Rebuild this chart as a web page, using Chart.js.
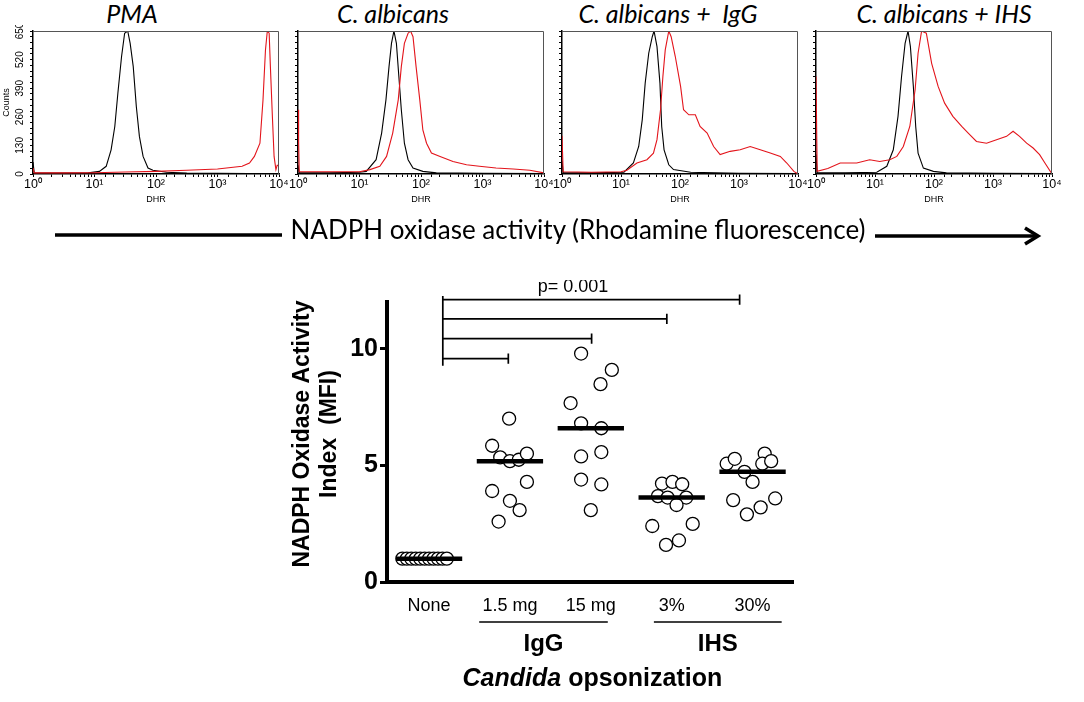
<!DOCTYPE html>
<html><head><meta charset="utf-8">
<script src="https://cdn.jsdelivr.net/npm/chart.js@4.4.0/dist/chart.umd.min.js"></script>
<style>
html,body{margin:0;padding:0;background:#fff;}
body{width:1084px;height:702px;overflow:hidden;position:relative;font-family:'Liberation Sans',Arial,sans-serif;}
.box{position:absolute;}
.ttl{position:absolute;top:-1px;font-family:Lato,'Open Sans',sans-serif;font-style:italic;font-size:25px;line-height:28px;white-space:nowrap;transform:translateX(-50%);color:#000;}
#big{position:absolute;left:578px;top:214px;font-family:Lato,'Open Sans',sans-serif;font-size:26px;line-height:30px;white-space:nowrap;transform:translateX(-50%);color:#000;}
</style></head><body>

<div class="ttl" style="left:132px">PMA</div>
<div class="ttl" style="left:393px">C. albicans</div>
<div class="ttl" style="left:668px">C. albicans +&nbsp; IgG</div>
<div class="ttl" style="left:944px">C. albicans + IHS</div>

<div class="box" style="left:0px;top:25px;width:289px;height:190px"><canvas id="h1"></canvas></div>
<div class="box" style="left:286px;top:25px;width:268px;height:190px"><canvas id="h2"></canvas></div>
<div class="box" style="left:550px;top:25px;width:258px;height:190px"><canvas id="h3"></canvas></div>
<div class="box" style="left:804px;top:25px;width:260px;height:190px"><canvas id="h4"></canvas></div>

<svg class="box" style="left:0;top:0" width="1084" height="260">
  <line x1="55" y1="235" x2="282" y2="235" stroke="#000" stroke-width="3.5"/>
  <line x1="875" y1="236" x2="1036" y2="236" stroke="#000" stroke-width="3.5"/>
  <polyline points="1025,228 1038,236 1025,244" fill="none" stroke="#000" stroke-width="3.5" stroke-linejoin="miter"/>
</svg>
<div id="big">NADPH oxidase activity (Rhodamine fluorescence)</div>

<div class="box" style="left:270px;top:280px;width:530px;height:422px"><canvas id="sc"></canvas></div>

<script>
// ---------- Histogram data: [log10(DHR), counts] ----------
const pmaCtrl = [[0,54],[0.02,5],[0.5,4],[0.9,5],[1.08,12],[1.19,35],[1.27,110],[1.33,216],[1.38,367],[1.44,534],[1.49,640],[1.54,650],[1.58,594],[1.63,488],[1.68,307],[1.73,171],[1.79,80],[1.87,27],[1.95,17],[2.17,8],[2.5,4],[3,3],[3.5,2],[4,2]];
const pmaTest = [[0,27],[0.02,5],[0.5,5],[1,6],[1.5,9],[2,12],[2.5,17],[3,23],[3.4,35],[3.52,50],[3.6,80],[3.69,140],[3.74,337],[3.78,564],[3.81,650],[3.84,640],[3.86,488],[3.89,277],[3.92,80],[3.95,20],[3.97,39],[4,39]];
const albCtrl = [[0,40],[0.02,5],[0.5,5],[1,8],[1.11,12],[1.27,65],[1.36,186],[1.43,337],[1.48,488],[1.52,594],[1.56,650],[1.6,594],[1.64,443],[1.68,292],[1.73,140],[1.79,65],[1.87,27],[2.03,12],[2.25,5],[3,3],[4,2]];
const albTest = [[0,292],[0.01,148],[0.02,10],[0.5,10],[1,10],[1.17,20],[1.33,35],[1.44,80],[1.54,186],[1.63,337],[1.68,488],[1.73,594],[1.79,640],[1.83,650],[1.87,624],[1.92,488],[1.98,337],[2.03,201],[2.09,140],[2.17,95],[2.31,80],[2.52,57],[2.74,42],[2.95,35],[3.22,27],[3.5,23],[3.77,17],[4,5]];
const iggCtrl = [[0,60],[0.02,5],[0.5,5],[1.05,8],[1.21,50],[1.3,125],[1.36,246],[1.41,413],[1.47,549],[1.53,624],[1.56,650],[1.61,579],[1.66,413],[1.69,216],[1.73,110],[1.81,42],[1.89,20],[2.18,8],[2.6,5],[3,3],[4,2]];
const iggTest = [[0,174],[0.02,10],[0.5,8],[1,10],[1.1,17],[1.27,50],[1.44,65],[1.55,95],[1.61,156],[1.67,292],[1.71,443],[1.75,564],[1.81,650],[1.85,624],[1.92,534],[2.01,398],[2.06,292],[2.15,269],[2.26,269],[2.34,216],[2.46,186],[2.57,125],[2.68,88],[2.85,103],[3.02,110],[3.19,125],[3.36,110],[3.53,95],[3.7,80],[3.81,50],[3.93,12],[4,0]];
const ihsCtrl = [[0,90],[0.02,5],[0.5,5],[1.03,8],[1.2,35],[1.31,110],[1.39,262],[1.45,443],[1.51,594],[1.56,650],[1.6,579],[1.65,398],[1.69,216],[1.73,95],[1.82,27],[1.99,12],[2.21,5],[3,3],[4,2]];
const ihsTest = [[0,443],[0.02,12],[0.2,25],[0.41,50],[0.69,50],[0.91,65],[1.08,57],[1.25,65],[1.37,80],[1.48,125],[1.59,216],[1.68,383],[1.73,549],[1.79,650],[1.87,640],[1.96,503],[2.07,398],[2.18,322],[2.32,262],[2.47,216],[2.58,186],[2.72,148],[2.89,140],[3.06,156],[3.23,171],[3.34,194],[3.45,171],[3.57,140],[3.68,118],[3.79,88],[3.88,50],[4,0]];
const countTicks = [0,130,260,390,520,650];

// ---------- Scatter data ----------
const categories = ['None','1.5 mg','15 mg','3%','30%'];
const noneVals  = [1,1,1,1,1,1,1,1,1,1,1];
const igg1Vals  = [7.0,5.84,5.34,5.18,5.24,5.5,4.29,3.9,3.48,3.08,2.59];
const igg15Vals = [9.79,9.09,8.48,7.67,6.8,6.59,5.38,5.57,4.39,4.18,3.08];
const ihs3Vals  = [4.22,4.29,4.19,3.68,3.62,3.62,3.3,2.4,2.49,1.59,1.78];
const ihs30Vals = [5.07,5.28,4.72,4.29,5.5,5.07,5.18,3.51,2.9,3.2,3.58];
// horizontal spread of the dots within each column (category units)
const noneJit  = [-0.33,-0.275,-0.22,-0.165,-0.11,-0.055,0,0.055,0.11,0.165,0.22];
const igg1Jit  = [-0.01,-0.22,-0.12,0,0.11,0.21,0.21,-0.22,0,0.12,-0.14];
const igg15Jit = [-0.12,0.26,0.12,-0.25,-0.12,0.13,-0.12,0.13,-0.12,0.13,0];
const ihs3Jit  = [-0.12,0.01,0.13,-0.17,-0.05,0.18,0.06,-0.24,0.26,-0.07,0.09];
const ihs30Jit = [-0.32,-0.22,-0.1,0,0.15,0.12,0.23,-0.24,-0.07,0.1,0.28];
const yTicks = [0,5,10];
const yTitle = ['NADPH Oxidase Activity', 'Index  (MFI)'];
// significance brackets (from None to each group)
const bracketStart = 0.17;
const bracketEnd   = [3.84,2.94,2.01,0.98];
const bracketLevel = [12.1,11.28,10.43,9.57];
const pLabel = 'p= 0.001';
const groupNames = ['IgG','IHS'];
const groupFrom  = [0.62,2.78];
const groupTo    = [2.21,4.36];

// ---------- Histograms ----------
const sup = ['\u2070','\u00b9','\u00b2','\u00b3','\u2074'];
function toPts(arr){ return arr.map(p => ({x: Math.pow(10, p[0]), y: p[1]})); }
function makeFrame(showY){
  return {id:'frame', afterDraw(c){
    const a = c.chartArea, ctx = c.ctx, ys = c.scales.y; ctx.save();
    ctx.strokeStyle = '#555'; ctx.lineWidth = 1;
    ctx.beginPath(); ctx.moveTo(a.left, a.top+0.5); ctx.lineTo(a.right-0.5, a.top+0.5); ctx.lineTo(a.right-0.5, a.bottom); ctx.stroke();
    if (showY){
      ctx.fillStyle = '#000'; ctx.font = '10px "Liberation Sans", Arial';
      ctx.textAlign = 'center'; ctx.textBaseline = 'middle';
      countTicks.forEach(v => {
        ctx.save(); ctx.translate(a.left - 13, ys.getPixelForValue(v)); ctx.rotate(-Math.PI/2);
        ctx.fillText(String(v), 0, 0); ctx.restore();
      });
      ctx.save(); ctx.translate(a.left - 26, (a.top + a.bottom) / 2); ctx.rotate(-Math.PI/2);
      ctx.font = '9px "Liberation Sans", Arial'; ctx.fillText('Counts', 0, 0); ctx.restore();
    }
    ctx.restore();
  }};
}
function hist(id, ctrl, test, yW, padR, showY){
  new Chart(document.getElementById(id), {
    type: 'line',
    data: {datasets: [
      {data: toPts(test), borderColor: '#e3141b', borderWidth: 1.1, pointRadius: 0, tension: 0, order: 0},
      {data: toPts(ctrl), borderColor: '#000', borderWidth: 1.1, pointRadius: 0, tension: 0, order: 1}
    ]},
    options: {
      responsive: true, maintainAspectRatio: false, animation: false, events: [],
      layout: {autoPadding: false, padding: {top: 6, right: padR, left: 0, bottom: 0}},
      plugins: {legend: {display: false}, tooltip: {enabled: false}},
      scales: {
        x: {type: 'logarithmic', min: 1, max: 10000,
            afterFit(s){ s.height = 41; },
            ticks: {autoSkip: false, maxRotation: 0, minRotation: 0, padding: 0, color: '#000',
                    font: {size: 12.5, family: 'Liberation Sans'},
                    callback(v){ const l = Math.log10(v), r = Math.round(l); return Math.abs(l - r) < 1e-6 ? '10' + sup[r] : ''; }},
            grid: {drawOnChartArea: false, drawTicks: true, tickLength: 3, color: '#000'},
            border: {color: '#000', width: 1.5},
            title: {display: true, text: 'DHR', color: '#000', font: {size: 9, family: 'Liberation Sans'}, padding: {top: 0, bottom: 10}}},
        y: {type: 'linear', min: 0, max: 650,
            afterFit(s){ s.width = yW; },
            ticks: {display: false, stepSize: 26, autoSkip: false},
            grid: {drawOnChartArea: false, drawTicks: true, tickLength: 3, color: '#000'},
            border: {color: '#000', width: 1.5}}
      }
    },
    plugins: [makeFrame(showY)]
  });
}
hist('h1', pmaCtrl, pmaTest, 33, 10, true);
hist('h2', albCtrl, albTest, 12, 10, false);
hist('h3', iggCtrl, iggTest, 12, 10, false);
hist('h4', ihsCtrl, ihsTest, 12, 12, false);

// ---------- Scatter ----------
const groupVals = [noneVals, igg1Vals, igg15Vals, ihs3Vals, ihs30Vals];
const groupJit  = [noneJit, igg1Jit, igg15Jit, ihs3Jit, ihs30Jit];
function median(a){ const s = [...a].sort((p,q)=>p-q), m = Math.floor(s.length/2); return s.length % 2 ? s[m] : (s[m-1]+s[m])/2; }

const datasets = [];
groupVals.forEach((vals, i) => {
  datasets.push({data: vals.map((v,k) => ({x: i + groupJit[i][k], y: v})), showLine: false,
    pointRadius: 6.5, radius: 6.5, backgroundColor: '#fff', borderColor: '#000', borderWidth: 1.3,
    pointBackgroundColor: '#fff', pointBorderColor: '#000', pointBorderWidth: 1.3, order: 3});
});
groupVals.forEach((vals, i) => {
  const m = median(vals);
  datasets.push({data: [{x: i - 0.41, y: m}, {x: i + 0.41, y: m}], showLine: true, borderColor: '#000',
    borderWidth: 4.5, pointRadius: 0, order: 1});
});
const cap = 0.22;
bracketEnd.forEach((xe, j) => {
  const yb = bracketLevel[j];
  datasets.push({data: [{x: bracketStart, y: yb}, {x: xe, y: yb}, {x: xe, y: yb + cap}, {x: xe, y: yb - cap}],
    showLine: true, borderColor: '#000', borderWidth: 1.7, pointRadius: 0, clip: false, order: 2});
});
datasets.push({data: [{x: bracketStart, y: bracketLevel[0] + 0.16}, {x: bracketStart, y: bracketLevel[bracketLevel.length-1] - 0.3}],
  showLine: true, borderColor: '#000', borderWidth: 1.7, pointRadius: 0, clip: false, order: 2});

const annotPlugin = {id: 'annot', afterDraw(c){
  const ctx = c.ctx, xs = c.scales.x, ys = c.scales.y, a = c.chartArea;
  ctx.save(); ctx.fillStyle = '#000'; ctx.strokeStyle = '#000';
  // y axis title (two lines)
  ctx.font = 'bold 23px "Liberation Sans", Arial'; ctx.textAlign = 'center'; ctx.textBaseline = 'middle';
  yTitle.forEach((t, i) => {
    ctx.save(); ctx.translate(a.left - 84 + i * 27, (a.top + a.bottom) / 2 - 8); ctx.rotate(-Math.PI/2);
    ctx.fillText(t, 0, 0); ctx.restore();
  });
  ctx.font = '18px "Liberation Sans", Arial';
  ctx.fillText(pLabel, xs.getPixelForValue(1.78), ys.getPixelForValue(bracketLevel[0]) - 13);
  const base = ys.bottom;
  groupNames.forEach((g, i) => {
    const x0 = xs.getPixelForValue(groupFrom[i]), x1 = xs.getPixelForValue(groupTo[i]);
    ctx.lineWidth = 1.6; ctx.beginPath(); ctx.moveTo(x0, base + 40); ctx.lineTo(x1, base + 40); ctx.stroke();
    ctx.font = 'bold 24px "Liberation Sans", Arial'; ctx.textAlign = 'center';
    ctx.fillText(g, (x0 + x1) / 2, base + 62);
  });
  const p1 = 'Candida', p2 = ' opsonization';
  ctx.font = 'italic bold 25px "Liberation Sans", Arial'; const w1 = ctx.measureText(p1).width;
  ctx.font = 'bold 25px "Liberation Sans", Arial'; const w2 = ctx.measureText(p2).width;
  const cx = xs.getPixelForValue(2.02), sx = cx - (w1 + w2) / 2;
  ctx.textAlign = 'left';
  ctx.font = 'italic bold 25px "Liberation Sans", Arial'; ctx.fillText(p1, sx, base + 97);
  ctx.font = 'bold 25px "Liberation Sans", Arial'; ctx.fillText(p2, sx + w1, base + 97);
  ctx.restore();
}};

new Chart(document.getElementById('sc'), {
  type: 'scatter',
  data: {datasets},
  options: {
    responsive: true, maintainAspectRatio: false, animation: false, events: [],
    layout: {autoPadding: false, padding: {top: 22, right: 7, left: 0, bottom: 0}},
    plugins: {legend: {display: false}, tooltip: {enabled: false}},
    scales: {
      x: {type: 'linear', min: -0.52, max: 4.5,
          afterFit(s){ s.height = 120; },
          afterBuildTicks(s){ s.ticks = categories.map((c, i) => ({value: i})); },
          ticks: {autoSkip: false, maxRotation: 0, padding: 13, color: '#000', font: {size: 18, family: 'Liberation Sans'},
                  callback(v){ return categories[v] ?? ''; }},
          grid: {display: false, drawTicks: false},
          border: {color: '#000', width: 4}},
      y: {type: 'linear', min: 0, max: 12,
          afterFit(s){ s.width = 117; },
          afterBuildTicks(s){ s.ticks = yTicks.map(v => ({value: v})); },
          ticks: {padding: 2, color: '#000', font: {size: 25, weight: 'bold', family: 'Liberation Sans'}},
          grid: {drawOnChartArea: false, drawTicks: true, tickLength: 7, lineWidth: 3, color: '#000'},
          border: {color: '#000', width: 4}}
    }
  },
  plugins: [annotPlugin]
});
</script>
</body></html>
